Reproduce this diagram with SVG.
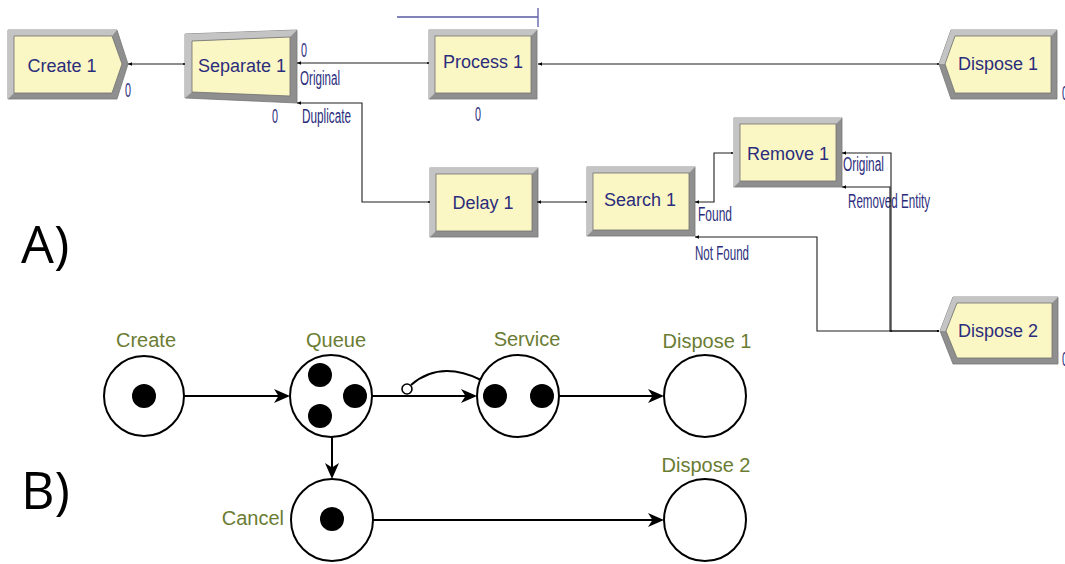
<svg xmlns="http://www.w3.org/2000/svg" xmlns:xlink="http://www.w3.org/1999/xlink" width="1065" height="564" viewBox="0 0 1065 564">
  <style>
    .bevel-dark { fill: #8f8f8f; stroke: #777; stroke-width: 0.8; }
    .bevel-light { fill: #c4c4c4; }
    .face { fill: #fbf7c4; stroke: #707070; stroke-width: 0.8; }
    .mod-label { font-family: "Liberation Sans", Arial, sans-serif; font-size: 18px; fill: #2b2d7c; text-anchor: middle; }
    .port-label { font-family: "Liberation Sans", Arial, sans-serif; font-size: 20px; fill: #2b2d7c; }
    .link { fill: none; stroke: #1e1e1e; stroke-width: 1.1; marker-start: url(#exitPt); marker-end: url(#entryPt); }
    .ring { fill: #fff; stroke: #000; stroke-width: 2; }
    .token { fill: #000; }
    .flow { fill: none; stroke: #000; stroke-width: 2; marker-end: url(#classic); }
    .state-label { font-family: "Liberation Sans", Arial, sans-serif; font-size: 20px; fill: #6b7c33; text-anchor: middle; }
    .panel-label { font-family: "Open Sans", "Liberation Sans", sans-serif; font-size: 52px; fill: #000; }
  </style>
  <defs>
    <marker id="exitPt" markerUnits="userSpaceOnUse" markerWidth="6" markerHeight="6" viewBox="0 -3 6 6" refX="0" refY="0" orient="auto" overflow="visible">
      <path d="M0,0 L4,-1.8 L4,1.8 Z" fill="#000"/>
    </marker>
    <marker id="entryPt" markerUnits="userSpaceOnUse" markerWidth="4" markerHeight="4" viewBox="-2 -2 4 4" refX="0" refY="0" orient="auto" overflow="visible">
      <circle r="1" fill="#000"/>
    </marker>
    <marker id="classic" markerUnits="userSpaceOnUse" markerWidth="16" markerHeight="16" viewBox="0 0 16 14" refX="12" refY="7" orient="auto" overflow="visible">
      <path d="M0,0 L16,7 L0,14 L4.5,7 Z" fill="#000"/>
    </marker>
    <!-- standard rectangular module with bevelled frame -->
    <g id="arenaBox">
      <rect class="bevel-dark" x="0" y="0" width="108" height="69"/>
      <polygon class="bevel-light" points="0,0 108,0 102,6 6,6 6,63 0,69"/>
      <rect class="face" x="6" y="6" width="96" height="57"/>
    </g>
  </defs>

  <!-- Panel A: simulation model flowchart -->
  <text class="panel-label" x="21" y="263">A)</text>

  <g id="create1">
    <polygon class="bevel-dark" points="8,30 117,30 128,64 117,99 8,99"/>
    <polygon class="bevel-light" points="8,30 117,30 112,36 14,36 14,93 8,99"/>
    <polygon class="face" points="14,36 112,36 122,64 112,93 14,93"/>
    <text class="mod-label" x="62" y="72">Create 1</text>
    <text class="port-label" x="125" y="97" textLength="6" lengthAdjust="spacingAndGlyphs">0</text>
  </g>

  <g id="separate1">
    <polygon class="bevel-dark" points="185,34 297,30 297,103 185,98"/>
    <polygon class="bevel-light" points="185,34 297,30 290,37 192,41 192,92 185,98"/>
    <polygon class="face" points="192,41 290,37 290,96 192,92"/>
    <text class="mod-label" x="242" y="72">Separate 1</text>
    <text class="port-label" x="301" y="57" textLength="6" lengthAdjust="spacingAndGlyphs">0</text>
    <text class="port-label" x="300" y="85" textLength="40" lengthAdjust="spacingAndGlyphs">Original</text>
    <text class="port-label" x="272" y="123" textLength="6" lengthAdjust="spacingAndGlyphs">0</text>
    <text class="port-label" x="302" y="123" textLength="49" lengthAdjust="spacingAndGlyphs">Duplicate</text>
  </g>

  <g id="process1">
    <line x1="397" y1="17" x2="538" y2="17" stroke="#5a5aa6" stroke-width="1.3"/>
    <line x1="538" y1="8" x2="538" y2="27" stroke="#5a5aa6" stroke-width="1.3"/>
    <use xlink:href="#arenaBox" x="429" y="30"/>
    <text class="mod-label" x="483" y="68">Process 1</text>
    <text class="port-label" x="475" y="121" textLength="6" lengthAdjust="spacingAndGlyphs">0</text>
  </g>

  <g id="dispose1">
    <polygon class="bevel-dark" points="939,64 951,30 1057,30 1057,99 951,99"/>
    <polygon class="bevel-light" points="939,64 951,30 1057,30 1051,36 955,36 945,64"/>
    <polygon class="face" points="945,64 955,36 1051,36 1051,93 955,93"/>
    <text class="mod-label" x="998" y="70">Dispose 1</text>
    <text class="port-label" x="1062" y="100" textLength="6" lengthAdjust="spacingAndGlyphs">0</text>
  </g>

  <g id="delay1">
    <use xlink:href="#arenaBox" x="430" y="168"/>
    <text class="mod-label" x="483" y="209">Delay 1</text>
  </g>

  <g id="search1">
    <use xlink:href="#arenaBox" x="587" y="167"/>
    <text class="mod-label" x="640" y="206">Search 1</text>
    <text class="port-label" x="698" y="221" textLength="34" lengthAdjust="spacingAndGlyphs">Found</text>
    <text class="port-label" x="695" y="260" textLength="54" lengthAdjust="spacingAndGlyphs">Not Found</text>
  </g>

  <g id="remove1">
    <use xlink:href="#arenaBox" x="734" y="118"/>
    <text class="mod-label" x="788" y="160">Remove 1</text>
    <text class="port-label" x="843" y="171" textLength="41" lengthAdjust="spacingAndGlyphs">Original</text>
    <text class="port-label" x="848" y="208" textLength="82" lengthAdjust="spacingAndGlyphs">Removed Entity</text>
  </g>

  <g id="dispose2">
    <polygon class="bevel-dark" points="940,331 953,297 1058,297 1058,364 953,364"/>
    <polygon class="bevel-light" points="940,331 953,297 1058,297 1052,303 957,303 946,331"/>
    <polygon class="face" points="946,331 957,303 1052,303 1052,358 957,358"/>
    <text class="mod-label" x="998" y="337">Dispose 2</text>
    <text class="port-label" x="1062" y="366" textLength="6" lengthAdjust="spacingAndGlyphs">0</text>
  </g>

  <g id="model-connectors">
    <path class="link" d="M128,64 H184"/>
    <path class="link" d="M297,63 H428"/>
    <path class="link" d="M297,103 H362 V202 H429"/>
    <path class="link" d="M538,64 H938"/>
    <path class="link" d="M537,202 H586"/>
    <path class="link" d="M695,202 H714 V153 H732"/>
    <path class="link" d="M695,237 H817 V331 H938"/>
    <path class="link" d="M842,153 H891 V331"/>
    <path class="link" d="M842,187 H890 V331 H938"/>
  </g>

  <!-- Panel B: event graph -->
  <text class="panel-label" x="21" y="509">B)</text>

  <g id="state-create">
    <circle class="ring" cx="144" cy="396" r="40"/>
    <circle class="token" cx="144" cy="396" r="12"/>
    <text class="state-label" x="146" y="347">Create</text>
  </g>

  <g id="state-queue">
    <circle class="ring" cx="331" cy="396" r="41"/>
    <circle class="token" cx="320" cy="375" r="12"/>
    <circle class="token" cx="355" cy="396" r="12"/>
    <circle class="token" cx="320" cy="416" r="12"/>
    <text class="state-label" x="336" y="347">Queue</text>
  </g>

  <g id="state-service">
    <circle class="ring" cx="518" cy="396" r="41"/>
    <circle class="token" cx="495" cy="396" r="12"/>
    <circle class="token" cx="542" cy="396" r="12"/>
    <text class="state-label" x="527" y="346">Service</text>
  </g>

  <g id="state-dispose1">
    <circle class="ring" cx="705" cy="396" r="41"/>
    <text class="state-label" x="707" y="348">Dispose 1</text>
  </g>

  <g id="state-cancel">
    <circle class="ring" cx="332" cy="520" r="41"/>
    <circle class="token" cx="332" cy="519" r="12"/>
    <text class="state-label" x="284" y="525" style="text-anchor:end">Cancel</text>
  </g>

  <g id="state-dispose2">
    <circle class="ring" cx="705" cy="520" r="41"/>
    <text class="state-label" x="706" y="472">Dispose 2</text>
  </g>

  <g id="graph-connectors">
    <path class="flow" d="M184,396 H286"/>
    <path class="flow" d="M372,396 H473"/>
    <path class="flow" d="M559,396 H660"/>
    <path class="flow" d="M332,437 V475"/>
    <path class="flow" d="M373,520 H660"/>
    <path d="M411,385 Q440,360 481,380" fill="none" stroke="#000" stroke-width="2"/>
    <circle cx="407" cy="389" r="5" fill="#fff" stroke="#000" stroke-width="1.6"/>
  </g>
</svg>
